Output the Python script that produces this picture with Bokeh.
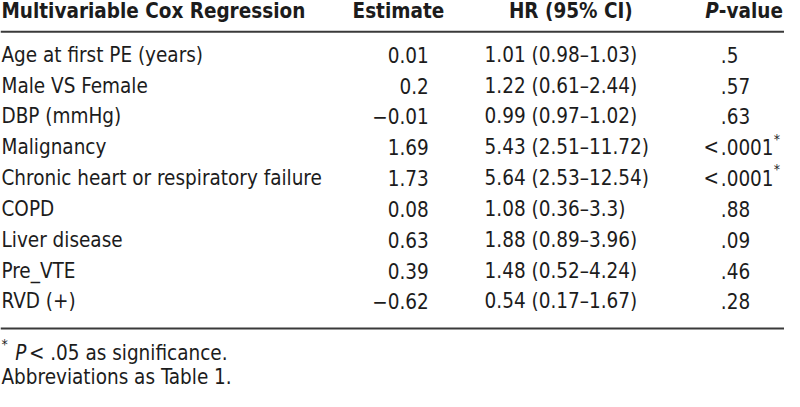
from bokeh.plotting import figure
from bokeh.models import Range1d, ColumnDataSource
from bokeh.core.properties import value
from bokeh.embed import file_html
from bokeh.resources import INLINE

# ---- data ----
col_headers = ["Multivariable Cox Regression", "Estimate", "HR (95% CI)", "P-value"]
variables = ["Age at first PE (years)", "Male VS Female", "DBP (mmHg)", "Malignancy",
             "Chronic heart or respiratory failure", "COPD", "Liver disease", "Pre_VTE", "RVD (+)"]
estimates = ["0.01", "0.2", "\u22120.01", "1.69", "1.73", "0.08", "0.63", "0.39", "\u22120.62"]
hr_ci = ["1.01 (0.98\u20131.03)", "1.22 (0.61\u20132.44)", "0.99 (0.97\u20131.02)",
         "5.43 (2.51\u201311.72)", "5.64 (2.53\u201312.54)", "1.08 (0.36\u20133.3)",
         "1.88 (0.89\u20133.96)", "1.48 (0.52\u20134.24)", "0.54 (0.17\u20131.67)"]
p_prefix = ["", "", "", "<", "<", "", "", "", ""]
p_values = [".5", ".57", ".63", ".0001", ".0001", ".88", ".09", ".46", ".28"]
p_signif = [False, False, False, True, True, False, False, False, False]
footnote = "< .05 as significance."
abbrev = "Abbreviations as Table 1."

FONT = value("DejaVu Sans Condensed, DejaVu Sans, sans-serif")
FS = "20.5px"
COLOR = "#1c1c1c"

p = figure(width=784, height=391, output_backend="svg", toolbar_location=None,
           x_range=Range1d(0, 800), y_range=Range1d(407, 0),
           min_border=0, outline_line_color=None)
p.axis.visible = False
p.grid.visible = False
p.background_fill_color = "white"

y0, step = 56.5, 32.1
ys = [y0 + i * step for i in range(len(variables))]

def txt(x, y, t, align="left", style="normal", size=FS, baseline="middle"):
    src = ColumnDataSource(dict(x=x, y=y, t=t))
    p.text(x="x", y="y", text="t", source=src, text_font=FONT, text_font_size=size,
           text_align=align, text_baseline=baseline, text_font_style=style,
           text_color=COLOR)

# header
hy = 11
txt([1], [hy], [col_headers[0]], "left", "bold")
txt([406], [hy], [col_headers[1]], "center", "bold")
txt([582], [hy], [col_headers[2]], "center", "bold")
txt([733], [hy], [col_headers[3][0]], "right", "bold italic")
txt([733], [hy], [col_headers[3][1:]], "left", "bold")

# rules
p.segment(x0=[0, 0], y0=[32.5, 341.5], x1=[800, 800], y1=[32.5, 341.5],
          line_color="#3a3a3a", line_width=2)

# body
txt([1] * len(ys), ys, variables, "left")
txt([437] * len(ys), ys, estimates, "right")
txt([494] * len(ys), ys, hr_ci, "left")
txt([733] * len(ys), ys, p_prefix, "right")
txt([735] * len(ys), ys, p_values, "left")
sig_y = [y - 9 for y, s in zip(ys, p_signif) if s]
txt([789] * len(sig_y), sig_y, ["*"] * len(sig_y), "left", size="14px")

# footnotes
txt([1], [358], ["*"], "left", size="14px")
txt([15], [367], ["P"], "left", "italic")
txt([29], [367], [footnote], "left")
txt([1], [392], [abbrev], "left")

open("out.html", "w").write(file_html(p, INLINE))
